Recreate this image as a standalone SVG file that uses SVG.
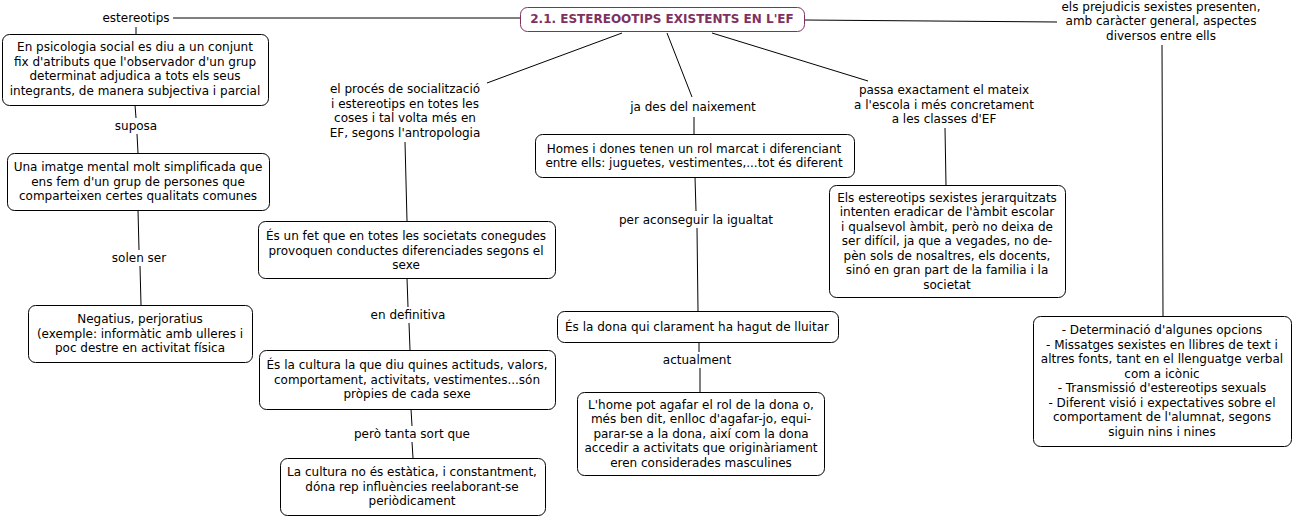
<svg xmlns="http://www.w3.org/2000/svg" width="1293" height="517" viewBox="0 0 1293 517">
<style>
text{font-family:"DejaVu Sans","Verdana",sans-serif;font-size:12px;fill:#000;text-anchor:middle;dominant-baseline:central}
.box{fill:#fff;stroke:#000;stroke-width:1}
.title rect{fill:#fff;stroke:#80305f;stroke-width:1}
.title text{fill:#80305f;font-weight:bold}
#connectors line{stroke:#000;stroke-width:1}
</style>
<rect width="1293" height="517" fill="#fff"/>
<g id="connectors">
<line x1="173" y1="18" x2="520" y2="18"/>
<line x1="136" y1="27" x2="136" y2="34"/>
<line x1="135" y1="105" x2="136" y2="118"/>
<line x1="137" y1="134" x2="138" y2="153"/>
<line x1="138" y1="210" x2="139" y2="250"/>
<line x1="140" y1="266" x2="141" y2="305"/>
<line x1="622" y1="33" x2="487" y2="83"/>
<line x1="405" y1="142" x2="407" y2="221"/>
<line x1="407" y1="278" x2="408" y2="307"/>
<line x1="409" y1="323" x2="410" y2="350"/>
<line x1="411" y1="409" x2="412" y2="426"/>
<line x1="412" y1="442" x2="413" y2="458"/>
<line x1="667" y1="33" x2="692" y2="97"/>
<line x1="694" y1="117" x2="694" y2="134"/>
<line x1="695" y1="177" x2="696" y2="211"/>
<line x1="697" y1="228" x2="698" y2="311"/>
<line x1="699" y1="342" x2="699" y2="352"/>
<line x1="700" y1="368" x2="700" y2="392"/>
<line x1="712" y1="33" x2="868" y2="81"/>
<line x1="945" y1="128" x2="946" y2="185"/>
<line x1="804" y1="20" x2="1057" y2="22"/>
<line x1="1162" y1="45" x2="1163" y2="316"/>
</g>
<g id="title" class="title">
<rect x="520.5" y="7.5" width="284" height="24" rx="7"/>
<text x="662" y="19">2.1. ESTEREOOTIPS EXISTENTS EN L'EF</text>
</g>
<g id="lbl-estereotips"><text x="136" y="18">estereotips</text></g>
<g id="box1">
<rect class="box" x="2.5" y="34.5" width="266" height="71" rx="7"/>
<text x="135" y="47">En psicologia social es diu a un conjunt</text>
<text x="135" y="61.5">fix d'atributs que l'observador d'un grup</text>
<text x="135" y="76">determinat adjudica a tots els seus</text>
<text x="135" y="90.5">integrants, de manera subjectiva i parcial</text>
</g>
<g id="lbl-suposa"><text x="136" y="126">suposa</text></g>
<g id="box2">
<rect class="box" x="7.5" y="153.5" width="262" height="57" rx="7"/>
<text x="138" y="167">Una imatge mental molt simplificada que</text>
<text x="138" y="181.5">ens fem d'un grup de persones que</text>
<text x="138" y="196">comparteixen certes qualitats comunes</text>
</g>
<g id="lbl-solen"><text x="139" y="258">solen ser</text></g>
<g id="box3">
<rect class="box" x="28.5" y="305.5" width="224" height="57" rx="7"/>
<text x="140" y="319">Negatius, perjoratius</text>
<text x="140" y="333.5">(exemple: informàtic amb ulleres i</text>
<text x="140" y="348">poc destre en activitat física</text>
</g>
<g id="lbl-proces">
<text x="405" y="89">el procés de socialització</text>
<text x="405" y="103.5">i estereotips en totes les</text>
<text x="405" y="118">coses i tal volta més en</text>
<text x="405" y="132.5">EF, segons l'antropologia</text>
</g>
<g id="box4">
<rect class="box" x="258.5" y="221.5" width="297" height="57" rx="7"/>
<text x="406" y="236">És un fet que en totes les societats conegudes</text>
<text x="406" y="250.5">provoquen conductes diferenciades segons el</text>
<text x="406" y="265">sexe</text>
</g>
<g id="lbl-definitiva"><text x="408" y="315">en definitiva</text></g>
<g id="box5">
<rect class="box" x="259.5" y="350.5" width="296" height="59" rx="7"/>
<text x="407" y="365">És la cultura la que diu quines actituds, valors,</text>
<text x="407" y="379.5">comportament, activitats, vestimentes...són</text>
<text x="407" y="394">pròpies de cada sexe</text>
</g>
<g id="lbl-pero"><text x="412" y="434">però tanta sort que</text></g>
<g id="box6">
<rect class="box" x="280.5" y="458.5" width="265" height="57" rx="7"/>
<text x="412" y="472">La cultura no és estàtica, i constantment,</text>
<text x="412" y="486.5">dóna rep influències reelaborant-se</text>
<text x="412" y="501">periòdicament</text>
</g>
<g id="lbl-naixement"><text x="693" y="107">ja des del naixement</text></g>
<g id="box7">
<rect class="box" x="535.5" y="134.5" width="319" height="43" rx="7"/>
<text x="694" y="148.5">Homes i dones tenen un rol marcat i diferenciant</text>
<text x="694" y="163">entre ells: juguetes, vestimentes,...tot és diferent</text>
</g>
<g id="lbl-igualtat"><text x="696" y="220">per aconseguir la igualtat</text></g>
<g id="box8">
<rect class="box" x="557.5" y="311.5" width="281" height="31" rx="7"/>
<text x="697" y="326.5">És la dona qui clarament ha hagut de lluitar</text>
</g>
<g id="lbl-actualment"><text x="697" y="360">actualment</text></g>
<g id="box9">
<rect class="box" x="577.5" y="392.5" width="247" height="83" rx="7"/>
<text x="701" y="404.5">L'home pot agafar el rol de la dona o,</text>
<text x="701" y="419">més ben dit, enlloc d'agafar-jo, equi-</text>
<text x="701" y="433.5">parar-se a la dona, així com la dona</text>
<text x="701" y="448">accedir a activitats que originàriament</text>
<text x="701" y="462.5">eren considerades masculines</text>
</g>
<g id="lbl-passa">
<text x="944" y="90">passa exactament el mateix</text>
<text x="944" y="104.5">a l'escola i més concretament</text>
<text x="944" y="119">a les classes d'EF</text>
</g>
<g id="box10">
<rect class="box" x="829.5" y="185.5" width="236" height="112" rx="7"/>
<text x="947" y="197.5">Els estereotips sexistes jerarquitzats</text>
<text x="947" y="212">intenten eradicar de l'àmbit escolar</text>
<text x="947" y="226.5">i qualsevol àmbit, però no deixa de</text>
<text x="947" y="241">ser difícil, ja que a vegades, no de-</text>
<text x="947" y="255.5">pèn sols de nosaltres, els docents,</text>
<text x="947" y="270">sinó en gran part de la familia i la</text>
<text x="947" y="284.5">societat</text>
</g>
<g id="lbl-prejudicis">
<text x="1161" y="6.5">els prejudicis sexistes presenten,</text>
<text x="1161" y="21">amb caràcter general, aspectes</text>
<text x="1161" y="35.5">diversos entre ells</text>
</g>
<g id="box11">
<rect class="box" x="1033.5" y="316.5" width="258" height="130" rx="7"/>
<text x="1162" y="330">- Determinació d'algunes opcions</text>
<text x="1162" y="344.5">- Missatges sexistes en llibres de text i</text>
<text x="1162" y="359">altres fonts, tant en el llenguatge verbal</text>
<text x="1162" y="373.5">com a icònic</text>
<text x="1162" y="388">- Transmissió d'estereotips sexuals</text>
<text x="1162" y="402.5">- Diferent visió i expectatives sobre el</text>
<text x="1162" y="417">comportament de l'alumnat, segons</text>
<text x="1162" y="431.5">siguin nins i nines</text>
</g>
</svg>
